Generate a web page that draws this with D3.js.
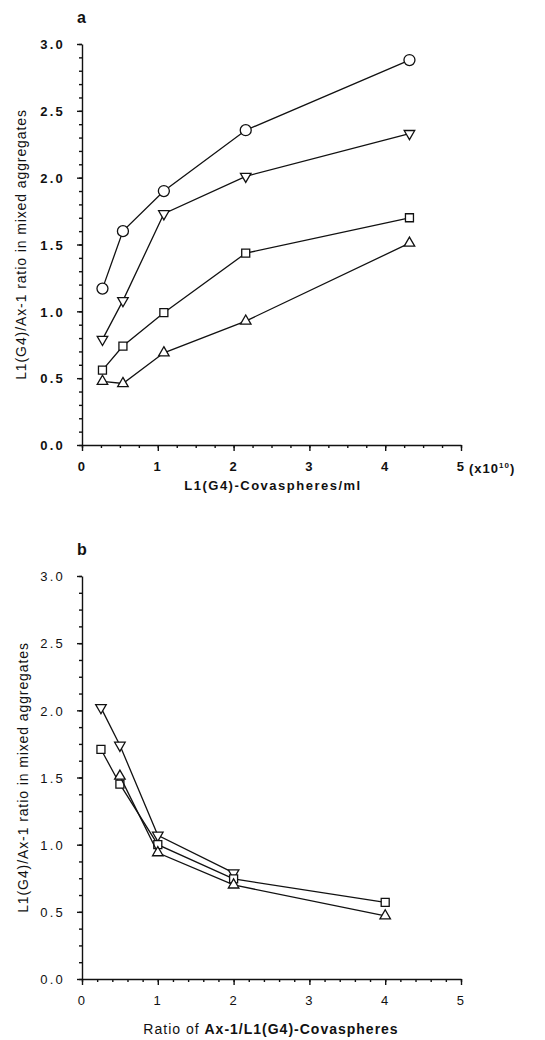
<!DOCTYPE html>
<html>
<head>
  <meta charset="UTF-8">
  <title>L1(G4)/Ax-1 ratio in mixed aggregates</title>
  <script src="https://d3js.org/d3.v7.min.js"></script>
  <style>
    body {
      margin: 0;
      background: #fff;
      font-family: "Liberation Sans", Arial, sans-serif;
    }
    .axis path, .axis line {
      stroke: #111;
      stroke-width: 1.4;
    }
    .axis text {
      fill: #111;
      font-family: "Liberation Sans", Arial, sans-serif;
      font-size: 13px;
      letter-spacing: 2.2px;
    }
    .series {
      fill: none;
      stroke: #111;
      stroke-width: 1.3;
    }
    .marker {
      fill: #fff;
      stroke: #111;
      stroke-width: 1.3;
    }
    .title {
      fill: #111;
    }
  </style>
</head>
<body>
  <div id="chart"></div>
  <script>
    // panel a: ratio vs. L1(G4)-Covaspheres/ml (x10^10)
    const xA = [0.27, 0.54, 1.08, 2.16, 4.32];
    const aCircle = [1.17, 1.60, 1.90, 2.355, 2.88];
    const aDown = [0.79, 1.08, 1.73, 2.01, 2.33];
    const aSquare = [0.56, 0.74, 0.99, 1.435, 1.70];
    const aUp = [0.476, 0.46, 0.69, 0.927, 1.51];

    // panel b: ratio vs. Ax-1/L1(G4) covasphere ratio
    const xB = [0.25, 0.5, 1, 2, 4];
    const bDown = [2.02, 1.74, 1.07, 0.79, null];
    const bSquare = [1.71, 1.45, 1.00, 0.745, 0.57];
    const bUp = [null, 1.51, 0.94, 0.70, 0.47];

    const yTicks = [0, 0.5, 1, 1.5, 2, 2.5, 3];
    const xTicks = [0, 1, 2, 3, 4, 5];

    const W = 545, H = 1040;
    const svg = d3.select("#chart").append("svg")
      .attr("width", W)
      .attr("height", H);

    const symbols = {
      circle: d3.symbol().type(d3.symbolCircle).size(95),
      square: d3.symbol().type(d3.symbolSquare).size(64),
      up: d3.symbol().type(d3.symbolTriangle).size(48),
      down: d3.symbol().type(d3.symbolTriangle).size(48)
    };

    const drawPanel = (opt) => {
      const x = d3.scaleLinear().domain([0, 5]).range([82, 461]);
      const y = d3.scaleLinear().domain([0, 3]).range([opt.y0, opt.y3]);
      const g = svg.append("g");

      // minor ticks first
      g.append("g")
        .attr("class", "axis")
        .attr("transform", `translate(0, ${opt.y0})`)
        .call(d3.axisBottom(x).tickValues(d3.range(0, 5.001, opt.xMinor)).tickSize(3).tickFormat(""))
        .call(a => a.select(".domain").remove());
      g.append("g")
        .attr("class", "axis")
        .attr("transform", "translate(82, 0)")
        .call(d3.axisLeft(y).tickValues(d3.range(0, 3.001, opt.yMinor)).tickSize(3).tickFormat(""))
        .call(a => a.select(".domain").remove());

      const xAxis = g.append("g")
        .attr("class", "axis")
        .attr("transform", `translate(0, ${opt.y0})`)
        .call(d3.axisBottom(x).tickValues(xTicks).tickSize(6).tickSizeOuter(0).tickPadding(11).tickFormat(d3.format("d")));
      const yAxis = g.append("g")
        .attr("class", "axis")
        .attr("transform", "translate(82, 0)")
        .call(d3.axisLeft(y).tickValues(yTicks).tickSize(5).tickSizeOuter(0).tickPadding(12).tickFormat(d3.format(".1f")));
      xAxis.selectAll("text").style("font-weight", opt.tickWeight);
      yAxis.selectAll("text").style("font-weight", opt.tickWeight).attr("dy", "0.36em");

      const line = d3.line()
        .defined(d => d[1] !== null)
        .x(d => x(d[0]))
        .y(d => y(d[1]));

      opt.series.forEach(s => {
        const pts = opt.xs.map((v, i) => [v, s.values[i]]);
        g.append("path")
          .attr("class", "series")
          .attr("d", line(pts));
        g.selectAll(null)
          .data(pts.filter(d => d[1] !== null))
          .enter()
          .append("path")
          .attr("class", "marker")
          .attr("d", symbols[s.shape])
          .attr("transform", d => `translate(${x(d[0])}, ${y(d[1])})` + (s.shape === "down" ? " rotate(180)" : ""));
      });

      // panel letter
      g.append("text")
        .attr("class", "title")
        .attr("x", 77)
        .attr("y", opt.y3 - 21)
        .style("font-size", "16px")
        .style("font-weight", "bold")
        .text(opt.letter);

      // y title
      g.append("text")
        .attr("class", "title")
        .attr("transform", `translate(${opt.yTitleX}, ${(opt.y0 + opt.y3) / 2}) rotate(-90)`)
        .attr("text-anchor", "middle")
        .style("font-size", "14px")
        .style("letter-spacing", "0.9px")
        .text("L1(G4)/Ax-1 ratio in mixed aggregates");

      return { g, x, y };
    };

    const pa = drawPanel({
      letter: "a", y0: 445, y3: 44, xMinor: 0.25, yMinor: 0.1, tickWeight: "bold", yTitleX: 26,
      xs: xA,
      series: [
        { shape: "circle", values: aCircle },
        { shape: "down", values: aDown },
        { shape: "square", values: aSquare },
        { shape: "up", values: aUp }
      ]
    });

    pa.g.append("text")
      .attr("class", "title")
      .attr("x", 273)
      .attr("y", 490)
      .attr("text-anchor", "middle")
      .style("font-size", "13px")
      .style("font-weight", "bold")
      .style("letter-spacing", "1.5px")
      .text("L1(G4)-Covaspheres/ml");

    const unit = pa.g.append("text")
      .attr("class", "title")
      .attr("x", 469)
      .attr("y", 473)
      .style("font-size", "13px")
      .style("font-weight", "bold")
      .style("letter-spacing", "1px");
    unit.append("tspan").text("(x10");
    unit.append("tspan").attr("dy", -5).style("font-size", "8px").text("10");
    unit.append("tspan").attr("dy", 5).text(")");

    const pb = drawPanel({
      letter: "b", y0: 979, y3: 576, xMinor: 0.2, yMinor: 0.125, tickWeight: "normal", yTitleX: 28,
      xs: xB,
      series: [
        { shape: "down", values: bDown },
        { shape: "square", values: bSquare },
        { shape: "up", values: bUp }
      ]
    });

    const tb = pb.g.append("text")
      .attr("class", "title")
      .attr("x", 271)
      .attr("y", 1034)
      .attr("text-anchor", "middle")
      .style("font-size", "14px")
      .style("letter-spacing", "1px");
    tb.append("tspan").text("Ratio of ");
    tb.append("tspan").style("font-weight", "bold").text("Ax-1/L1(G4)-Covaspheres");
  </script>
</body>
</html>
